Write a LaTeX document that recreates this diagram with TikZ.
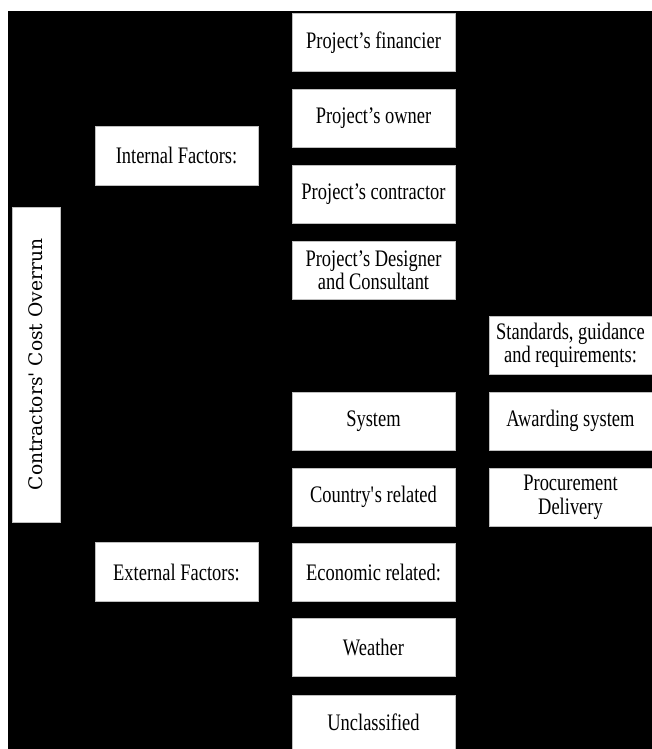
\documentclass[tikz,border=0pt]{standalone}
\usepackage{fontspec}
\setmainfont{Liberation Serif}[FakeStretch=0.78]
\newfontfamily\vfont{DejaVu Serif}
\begin{document}
\begin{tikzpicture}[x=0.75pt,y=-0.75pt,
  box/.style={draw=gray!50,line width=0.4pt,fill=white,inner sep=0pt,
    minimum width=122.25pt,minimum height=43.9pt,align=center,
    font=\fontsize{17.75}{17.5}\selectfont},
  vbox/.style={draw=gray!50,line width=0.4pt,fill=white,inner sep=0pt,
    minimum width=236.25pt,minimum height=36pt,rotate=90,
    font=\vfont\fontsize{14}{16}\selectfont}]
\useasboundingbox (0,0) rectangle (652,749);
\fill[white] (0,0) rectangle (652,749);
\fill[black] (8,11) rectangle (652,749);

\node[vbox] (root) at (36,364.5) {Contractors' Cost Overrun};

\node[box] (int) at (176.5,155.5) {Internal Factors:};
\node[box] (ext) at (176.5,572) {External Factors:};

\node[box] (fin) at (373.5,42.25) {Project’s financier};
\node[box] (own) at (373.5,118.25) {Project’s owner};
\node[box] (con) at (373.5,194.25) {Project’s contractor};
\node[box] (des) at (373.5,270.25) {Project’s Designer\\and Consultant};
\node[box] (sys) at (373.5,421.25) {System};
\node[box] (cou) at (373.5,497.25) {Country\textquotesingle s related};
\node[box] (eco) at (373.5,572.25) {Economic related:};
\node[box] (wea) at (373.5,647.25) {Weather};
\node[box,minimum height=40.5pt] (unc) at (373.5,722) {Unclassified};

\node[box] (std) at (570.5,345.25) {Standards, guidance\\and requirements:};
\node[box] (awa) at (570.5,421.25) {Awarding system};
\node[box] (pro) at (570.5,497.25) {Procurement\\Delivery};
\end{tikzpicture}
\end{document}
